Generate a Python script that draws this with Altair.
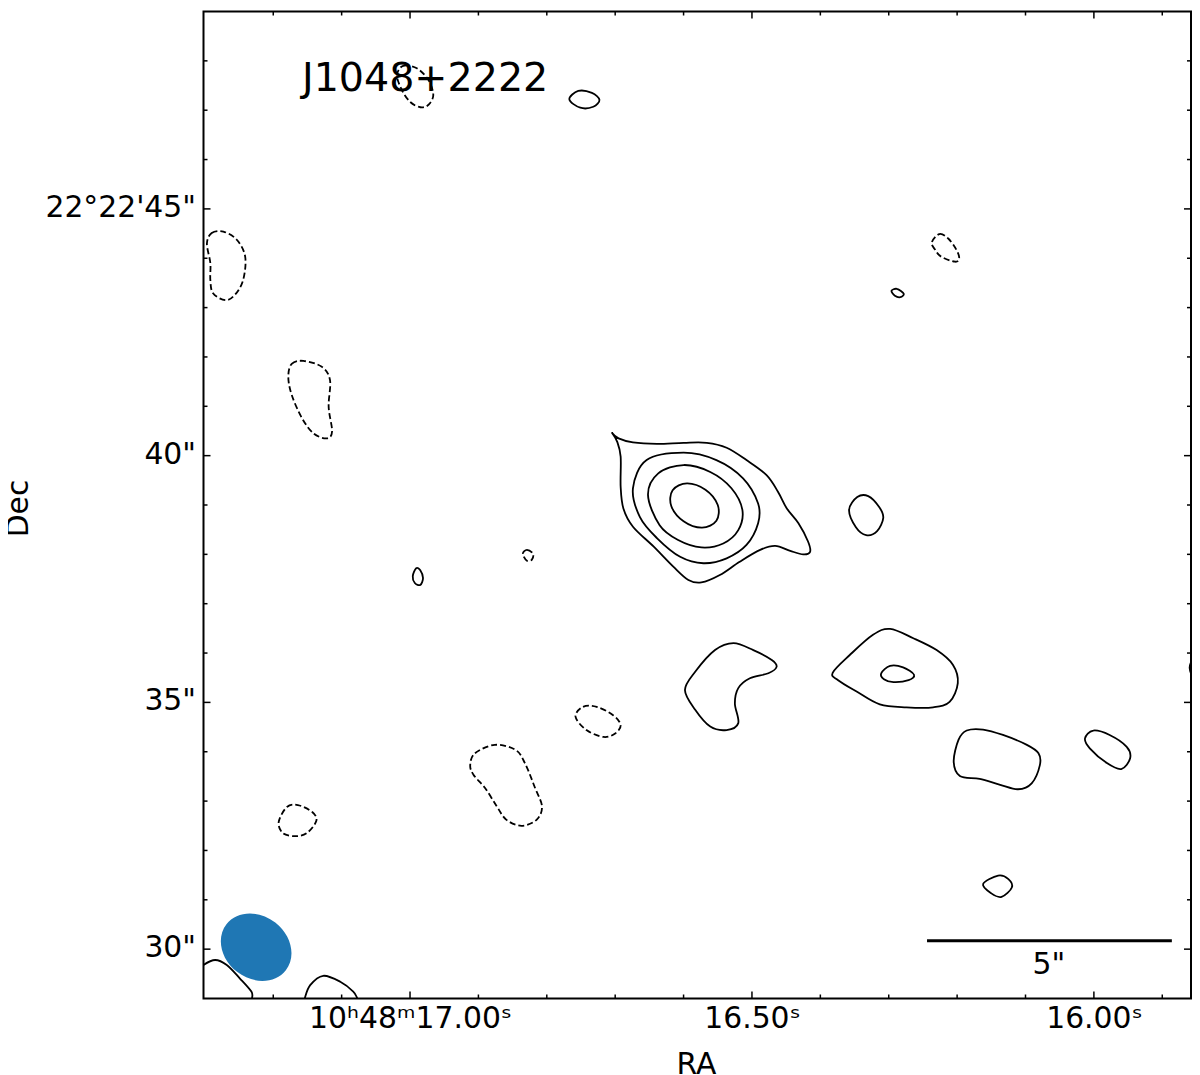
import altair as alt
import pandas as pd

FONT = "DejaVu Sans"
INK = "black"
BEAM_COLOR = "#1f77b4"

RA_DOMAIN = [17.302, 15.858]
DEC_DOMAIN = [29.0, 49.0]

RA_MAJOR = [17.0, 16.5, 16.0]
RA_MAJOR_LABELS = ["10ʰ48ᵐ17.00ˢ", "16.50ˢ", "16.00ˢ"]
RA_MINOR = [17.2, 17.1, 16.9, 16.8, 16.7, 16.6, 16.4, 16.3, 16.2, 16.1, 15.9]
DEC_MAJOR = [30, 35, 40, 45]
DEC_MAJOR_LABELS = ['30"', '35"', '40"', "22°22'45\""]
DEC_MINOR = [31, 32, 33, 34, 36, 37, 38, 39, 41, 42, 43, 44, 46, 47, 48]

# (ra seconds, dec arcsec). Cusped or edge-cut contours are "open".
OUTER_RA = [16.705, 16.695, 16.674, 16.639, 16.600, 16.566, 16.537, 16.508, 16.479, 16.462, 16.449, 16.432, 16.418, 16.415, 16.425, 16.444, 16.466, 16.488, 16.518, 16.547, 16.574, 16.593, 16.615, 16.644, 16.674, 16.688, 16.692, 16.692, 16.697, 16.705]
OUTER_DEC = [40.47, 40.35, 40.27, 40.24, 40.26, 40.26, 40.16, 39.91, 39.61, 39.27, 38.93, 38.63, 38.26, 38.05, 38.00, 38.07, 38.17, 38.09, 37.85, 37.58, 37.43, 37.48, 37.75, 38.16, 38.56, 38.93, 39.37, 39.98, 40.28, 40.47]
BL1_RA = [17.312, 17.302, 17.285, 17.268, 17.249, 17.232, 17.231, 17.231]
BL1_DEC = [29.54, 29.68, 29.78, 29.68, 29.41, 29.14, 29.00, 28.86]
BL2_RA = [17.156, 17.154, 17.146, 17.127, 17.102, 17.083, 17.077, 17.072]
BL2_DEC = [28.85, 29.00, 29.27, 29.46, 29.34, 29.14, 29.00, 28.86]
EDGE_RA = [15.857, 15.860, 15.857]
EDGE_DEC = [35.86, 35.70, 35.54]

SOLID_CLOSED = {
    "core2": ([16.674, 16.654, 16.600, 16.552, 16.513, 16.491, 16.491, 16.508, 16.537, 16.571, 16.605, 16.639, 16.664],
              [39.34, 39.91, 40.06, 39.91, 39.54, 39.03, 38.63, 38.19, 37.92, 37.82, 37.95, 38.33, 38.76]),
    "core3": ([16.652, 16.637, 16.600, 16.561, 16.530, 16.514, 16.520, 16.542, 16.574, 16.608, 16.635],
              [39.20, 39.64, 39.81, 39.67, 39.34, 38.90, 38.49, 38.22, 38.14, 38.29, 38.59]),
    "core4": ([16.552, 16.573, 16.600, 16.618, 16.616, 16.595, 16.568, 16.550],
              [38.68, 38.54, 38.67, 38.98, 39.30, 39.44, 39.31, 39.00]),
    "a": ([16.598, 16.583, 16.554, 16.527, 16.498, 16.471, 16.464, 16.476, 16.503, 16.520, 16.525, 16.520, 16.537, 16.561, 16.583],
          [35.25, 35.62, 36.06, 36.20, 36.06, 35.86, 35.72, 35.59, 35.49, 35.29, 34.98, 34.58, 34.44, 34.51, 34.85]),
    "b": ([16.382, 16.357, 16.323, 16.298, 16.264, 16.230, 16.206, 16.199, 16.211, 16.235, 16.274, 16.313, 16.347, 16.374],
          [35.60, 35.96, 36.37, 36.49, 36.30, 36.06, 35.76, 35.39, 35.01, 34.90, 34.90, 34.96, 35.22, 35.45]),
    "b2": ([16.311, 16.298, 16.279, 16.263, 16.271, 16.293, 16.307],
           [35.59, 35.74, 35.71, 35.56, 35.45, 35.41, 35.47]),
    "c": ([16.205, 16.198, 16.186, 16.162, 16.133, 16.098, 16.081, 16.079, 16.091, 16.111, 16.137, 16.167, 16.196],
          [33.80, 34.24, 34.43, 34.45, 34.34, 34.14, 33.97, 33.73, 33.36, 33.24, 33.33, 33.45, 33.51]),
    "d": ([16.013, 16.001, 15.977, 15.952, 15.947, 15.960, 15.981, 16.006],
          [34.27, 34.43, 34.34, 34.10, 33.87, 33.65, 33.77, 34.07]),
    "e": ([16.162, 16.140, 16.125, 16.120, 16.135, 16.150],
          [31.32, 31.49, 31.42, 31.25, 31.06, 31.13]),
    "f": ([16.358, 16.346, 16.330, 16.314, 16.308, 16.317, 16.333, 16.348],
          [38.90, 39.16, 39.18, 38.96, 38.74, 38.47, 38.39, 38.55]),
    "g": ([16.996, 16.991, 16.985, 16.981, 16.985, 16.993],
          [37.56, 37.72, 37.68, 37.52, 37.38, 37.42]),
    "h": ([16.296, 16.288, 16.278, 16.283, 16.291],
          [43.34, 43.38, 43.28, 43.21, 43.24]),
    "i": ([16.767, 16.754, 16.734, 16.723, 16.732, 16.751],
          [47.22, 47.39, 47.35, 47.21, 47.07, 47.05]),
}

DASHED_CLOSED = {
    "n1": ([16.835, 16.829, 16.820, 16.822, 16.829],
           [38.01, 38.09, 38.01, 37.89, 37.87]),
    "n2": ([16.237, 16.226, 16.213, 16.201, 16.197, 16.203, 16.223, 16.232],
           [44.32, 44.49, 44.40, 44.17, 44.00, 43.93, 44.03, 44.17]),
    "n3": ([17.019, 17.010, 16.990, 16.973, 16.966, 16.973, 16.985, 17.000, 17.012],
           [47.71, 47.90, 47.85, 47.61, 47.31, 47.11, 47.06, 47.17, 47.41]),
    "n4": ([17.297, 17.290, 17.273, 17.253, 17.241, 17.244, 17.256, 17.270, 17.288, 17.292, 17.292],
           [44.30, 44.51, 44.54, 44.37, 44.03, 43.56, 43.26, 43.15, 43.29, 43.56, 43.90]),
    "n5": ([17.178, 17.173, 17.156, 17.129, 17.117, 17.119, 17.114, 17.122, 17.141, 17.158, 17.173],
           [41.60, 41.86, 41.92, 41.80, 41.53, 40.99, 40.49, 40.35, 40.45, 40.76, 41.23]),
    "n6": ([16.912, 16.905, 16.876, 16.846, 16.832, 16.817, 16.807, 16.815, 16.837, 16.859, 16.873, 16.890, 16.907],
           [33.73, 33.97, 34.14, 34.04, 33.77, 33.26, 32.89, 32.62, 32.50, 32.62, 32.89, 33.26, 33.53]),
    "n7": ([16.758, 16.747, 16.727, 16.703, 16.692, 16.700, 16.717, 16.742],
           [34.71, 34.91, 34.91, 34.74, 34.54, 34.37, 34.30, 34.44]),
    "n8": ([17.192, 17.180, 17.164, 17.143, 17.137, 17.151, 17.168, 17.186],
           [32.58, 32.88, 32.92, 32.78, 32.60, 32.35, 32.29, 32.35]),
}

SOLID_OPEN = {
    "outer": (OUTER_RA, OUTER_DEC),
    "bl1": (BL1_RA, BL1_DEC),
    "bl2": (BL2_RA, BL2_DEC),
    "edge": (EDGE_RA, EDGE_DEC),
}

BEAM_RA, BEAM_DEC = [17.225], [30.04]
BAR_RA, BAR_RA2, BAR_DEC = [16.244], [15.886], [30.17]
BAR_LABEL_RA, BAR_LABEL_DEC = [16.066], [29.68]
NAME_RA, NAME_DEC = [17.158], [47.39]


def table(group):
    rows = []
    for name, (ras, decs) in group.items():
        for i, (r, d) in enumerate(zip(ras, decs)):
            rows.append({"name": name, "i": i, "ra": r, "dec": d})
    return pd.DataFrame(rows)


xs = alt.Scale(domain=RA_DOMAIN, nice=False, zero=False)
ys = alt.Scale(domain=DEC_DOMAIN, nice=False, zero=False)


def expr(values, labels, fallback="''"):
    e = fallback
    for v, l in zip(values, labels):
        safe = l.replace('"', '\\"')
        e = f'datum.value == {v} ? "{safe}" : ({e})'
    return e


x_axis = alt.Axis(values=RA_MAJOR, labelExpr=expr(RA_MAJOR, RA_MAJOR_LABELS), title="RA",
                  ticks=False, grid=False, domain=False, labelOverlap=False, labelFlush=False,
                  labelLimit=500,
                  labelFont=FONT, labelFontSize=29.8, labelColor=INK, labelPadding=5,
                  titleFont=FONT, titleFontSize=29.8, titleColor=INK, titleFontWeight="normal",
                  titlePadding=16, titleX=492.5)
y_axis = alt.Axis(values=DEC_MAJOR, labelExpr=expr(DEC_MAJOR, DEC_MAJOR_LABELS), title="Dec",
                  ticks=False, grid=False, domain=False, labelOverlap=False, labelFlush=False,
                  labelLimit=500, labelOffset=-1.5,
                  labelFont=FONT, labelFontSize=29.8, labelColor=INK, labelPadding=8,
                  titleFont=FONT, titleFontSize=29.8, titleColor=INK, titleFontWeight="normal",
                  titlePadding=11, titleY=496.5)

X = alt.X("ra:Q", scale=xs, axis=x_axis)
Y = alt.Y("dec:Q", scale=ys, axis=y_axis)


def contour(group, interp, dash=None):
    kw = dict(interpolate=interp, color=INK, strokeWidth=1.8, clip=True)
    if dash:
        kw["strokeDash"] = dash
    return alt.Chart(table(group)).mark_line(**kw).encode(
        x=X, y=Y, detail="name:N", order="i:Q",
    )


H = 987


def xticks(vals, length):
    d = pd.DataFrame({"ra": vals})
    top = alt.Chart(d).mark_rule(color=INK, strokeWidth=1.5).encode(x=X, y=alt.value(0), y2=alt.value(length))
    bot = alt.Chart(d).mark_rule(color=INK, strokeWidth=1.5).encode(x=X, y=alt.value(H - length), y2=alt.value(H))
    return top + bot


def yticks(vals, length):
    d = pd.DataFrame({"dec": vals})
    W = 987.5
    left = alt.Chart(d).mark_rule(color=INK, strokeWidth=1.5).encode(y=Y, x=alt.value(0), x2=alt.value(length))
    right = alt.Chart(d).mark_rule(color=INK, strokeWidth=1.5).encode(y=Y, x=alt.value(W - length), x2=alt.value(W))
    return left + right


ELLIPSE = "M-0.594,-0.460A0.751,0.624,37.7,1,1,0.594,0.460A0.751,0.624,37.7,1,1,-0.594,-0.460Z"
beam = alt.Chart(pd.DataFrame({"ra": BEAM_RA, "dec": BEAM_DEC})).mark_point(
    shape=ELLIPSE, size=10000, filled=True, color=BEAM_COLOR, opacity=1, strokeWidth=0
).encode(x=X, y=Y)

bar = alt.Chart(pd.DataFrame({"ra": BAR_RA, "ra2": BAR_RA2, "dec": BAR_DEC})).mark_rule(
    color=INK, strokeWidth=3
).encode(x=X, x2="ra2:Q", y=Y)

bar_label = alt.Chart(pd.DataFrame({"ra": BAR_LABEL_RA, "dec": BAR_LABEL_DEC, "t": ['5"']})).mark_text(
    font=FONT, fontSize=29.8, color=INK, align="center", baseline="middle"
).encode(x=X, y=Y, text="t:N")

name = alt.Chart(pd.DataFrame({"ra": NAME_RA, "dec": NAME_DEC, "t": ["J1048+2222"]})).mark_text(
    font=FONT, fontSize=39.6, color=INK, align="left", baseline="alphabetic"
).encode(x=X, y=Y, text="t:N")

chart = alt.layer(
    contour(SOLID_CLOSED, "cardinal-closed"),
    contour(DASHED_CLOSED, "cardinal-closed", [6, 3]),
    contour(SOLID_OPEN, "cardinal"),
    xticks(RA_MAJOR, 7), xticks(RA_MINOR, 4),
    yticks(DEC_MAJOR, 7), yticks(DEC_MINOR, 4),
    beam, bar, bar_label, name,
).properties(
    width=987.5, height=H,
    autosize="none",
    background="white",
    padding={"left": 195.5, "top": 3.5, "right": 1, "bottom": 76},
).configure_view(stroke=INK, strokeWidth=2)

chart.save("out.html", embed_options={"renderer": "svg", "actions": False})
